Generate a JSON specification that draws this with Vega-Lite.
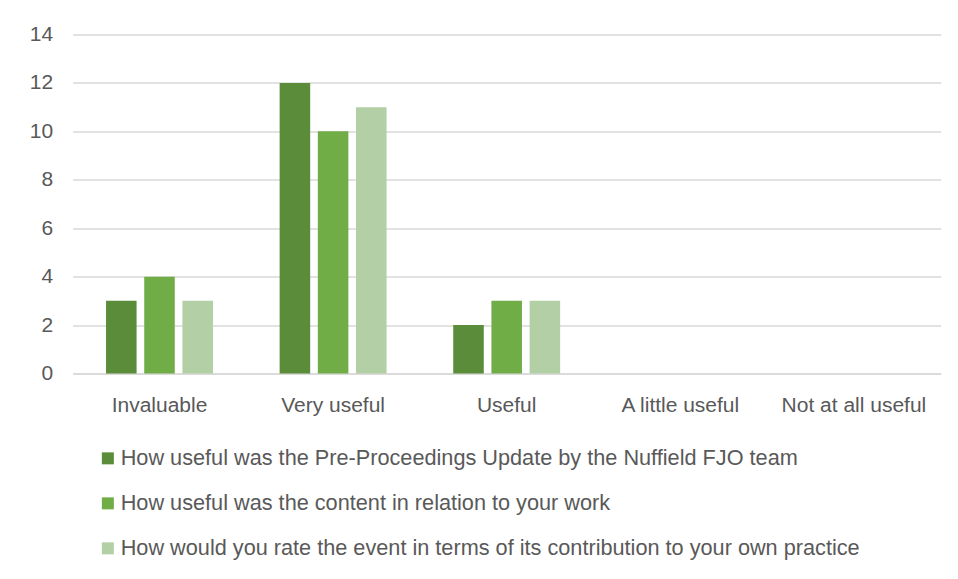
{
  "$schema": "https://vega.github.io/schema/vega-lite/v6.json",
  "autosize": {"type": "none"},
  "width": 868,
  "height": 339,
  "padding": {"left": 72.7, "top": 34.5, "right": 17, "bottom": 205},
  "background": "white",
  "config": {
    "view": {"stroke": null},
    "font": "Liberation Sans"
  },
  "data": {
    "values": [
      {"rating": "Invaluable", "question": "How useful was the Pre-Proceedings Update by the Nuffield FJO team", "count": 3},
      {"rating": "Invaluable", "question": "How useful was the content in relation to your work", "count": 4},
      {"rating": "Invaluable", "question": "How would you rate the event in terms of its contribution to your own practice", "count": 3},
      {"rating": "Very useful", "question": "How useful was the Pre-Proceedings Update by the Nuffield FJO team", "count": 12},
      {"rating": "Very useful", "question": "How useful was the content in relation to your work", "count": 10},
      {"rating": "Very useful", "question": "How would you rate the event in terms of its contribution to your own practice", "count": 11},
      {"rating": "Useful", "question": "How useful was the Pre-Proceedings Update by the Nuffield FJO team", "count": 2},
      {"rating": "Useful", "question": "How useful was the content in relation to your work", "count": 3},
      {"rating": "Useful", "question": "How would you rate the event in terms of its contribution to your own practice", "count": 3},
      {"rating": "A little useful", "question": "How useful was the Pre-Proceedings Update by the Nuffield FJO team", "count": 0},
      {"rating": "A little useful", "question": "How useful was the content in relation to your work", "count": 0},
      {"rating": "A little useful", "question": "How would you rate the event in terms of its contribution to your own practice", "count": 0},
      {"rating": "Not at all useful", "question": "How useful was the Pre-Proceedings Update by the Nuffield FJO team", "count": 0},
      {"rating": "Not at all useful", "question": "How useful was the content in relation to your work", "count": 0},
      {"rating": "Not at all useful", "question": "How would you rate the event in terms of its contribution to your own practice", "count": 0}
    ]
  },
  "mark": {"type": "bar"},
  "encoding": {
    "x": {
      "field": "rating",
      "type": "nominal",
      "sort": ["Invaluable", "Very useful", "Useful", "A little useful", "Not at all useful"],
      "scale": {"domain": ["Invaluable", "Very useful", "Useful", "A little useful", "Not at all useful"], "paddingInner": 0.384, "paddingOuter": 0.192},
      "axis": {
        "title": null,
        "labelAngle": 0,
        "labelFontSize": 21,
        "labelColor": "#595959",
        "labelPadding": 21,
        "ticks": false,
        "domainColor": "#d9d9d9",
        "domainWidth": 1.5,
        "labelLimit": 300
      }
    },
    "xOffset": {
      "field": "question",
      "type": "nominal",
      "sort": [
        "How useful was the Pre-Proceedings Update by the Nuffield FJO team",
        "How useful was the content in relation to your work",
        "How would you rate the event in terms of its contribution to your own practice"
      ],
      "scale": {"paddingInner": 0.2, "paddingOuter": 0}
    },
    "y": {
      "field": "count",
      "type": "quantitative",
      "scale": {"domain": [0, 14], "nice": false},
      "axis": {
        "title": null,
        "values": [0, 2, 4, 6, 8, 10, 12, 14],
        "domain": false,
        "ticks": false,
        "labelFontSize": 21,
        "labelColor": "#595959",
        "labelPadding": 20,
        "gridColor": "#d9d9d9",
        "gridWidth": 1.5
      }
    },
    "color": {
      "field": "question",
      "type": "nominal",
      "sort": [
        "How useful was the Pre-Proceedings Update by the Nuffield FJO team",
        "How useful was the content in relation to your work",
        "How would you rate the event in terms of its contribution to your own practice"
      ],
      "scale": {
        "domain": [
          "How useful was the Pre-Proceedings Update by the Nuffield FJO team",
          "How useful was the content in relation to your work",
          "How would you rate the event in terms of its contribution to your own practice"
        ],
        "range": ["#5a8c39", "#70ad47", "#b3cfa5"]
      },
      "legend": {
        "title": null,
        "orient": "none",
        "legendX": 24.3,
        "legendY": 413,
        "direction": "vertical",
        "symbolType": "square",
        "symbolSize": 144,
        "symbolStrokeWidth": 0,
        "labelFontSize": 21.7,
        "labelColor": "#595959",
        "labelOffset": 2,
        "labelLimit": 900,
        "rowPadding": 22
      }
    }
  }
}
